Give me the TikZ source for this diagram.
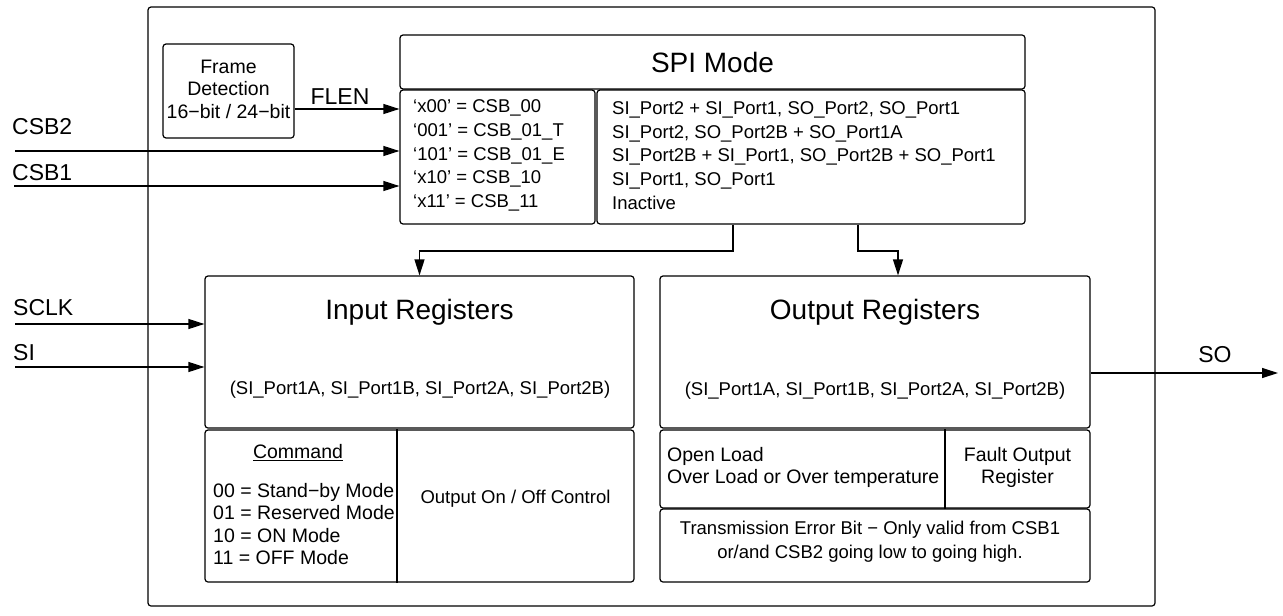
\documentclass[tikz,border=0pt]{standalone}
\usepackage{fontspec}
\setmainfont{Liberation Sans}
\usetikzlibrary{arrows.meta}
\begin{document}
\begin{tikzpicture}[x=1pt,y=-1pt,
  box/.style={draw, line width=1.2pt, rounded corners=3pt, inner sep=0pt},
  wire/.style={line width=1.2pt},
  arr/.style={line width=1.2pt, -{Triangle[length=16pt,width=10pt]}},
  txt/.style={font=\fontsize{18.5}{23.8}\selectfont, inner sep=0pt},
  mid/.style={font=\fontsize{19.5}{22.5}\selectfont, inner sep=0pt},
  sig/.style={font=\fontsize{23}{27}\selectfont, inner sep=0pt},
  big/.style={font=\fontsize{28}{33}\selectfont, inner sep=0pt}]
\useasboundingbox (0,0) rectangle (1283,616);

% boxes
\node[box, minimum width=1007, minimum height=599] (outer) at (651.5,306.5) {};
\node[box, minimum width=131, minimum height=94] (frame) at (228.5,91) {};
\node[box, minimum width=625, minimum height=54] (spih) at (712.5,62) {};
\node[box, minimum width=195, minimum height=134] (spil) at (497.5,157) {};
\node[box, minimum width=428, minimum height=134] (spir) at (811,157) {};
\node[box, minimum width=429, minimum height=152] (inreg) at (419.5,352) {};
\node[box, minimum width=429, minimum height=152] (cmd) at (419.5,506) {};
\node[box, minimum width=430, minimum height=152] (outreg) at (875,352) {};
\node[box, minimum width=430, minimum height=78] (fault) at (875,469) {};
\node[box, minimum width=430, minimum height=73] (trans) at (875,545.5) {};

% dividers
\coordinate (d1) at (397,0);
\coordinate (d2) at (945,0);
\draw[wire] (d1 |- cmd.north) -- (d1 |- cmd.south);
\draw[wire] (d2 |- fault.north) -- (d2 |- fault.south);

% texts
\node[mid, align=center] (frametxt) at (228.5,89) {Frame\\Detection\\16−bit / 24−bit};
\node[big] (spititle) at (712.5,62) {SPI Mode};
\node[txt, align=left, anchor=west] (spiltxt) at (413,155.5) {‘x00’ = CSB\_00\\‘001’ = CSB\_01\_T\\‘101’ = CSB\_01\_E\\‘x10’ = CSB\_10\\‘x11’ = CSB\_11};
\node[txt, align=left, anchor=west] (spirtxt) at (612,155.5) {SI\_Port2 + SI\_Port1, SO\_Port2, SO\_Port1\\SI\_Port2, SO\_Port2B + SO\_Port1A\\SI\_Port2B + SI\_Port1, SO\_Port2B + SO\_Port1\\SI\_Port1, SO\_Port1\\Inactive};
\node[big] (intitle) at (419.5,312) {Input Registers};
\node[txt] (insub) at (420,390) {(SI\_Port1A, SI\_Port1B, SI\_Port2A, SI\_Port2B)};
\node[big] (outtitle) at (875,312) {Output Registers};
\node[txt] (outsub) at (875,391) {(SI\_Port1A, SI\_Port1B, SI\_Port2A, SI\_Port2B)};
\node[mid] (cmdtitle) at (298,453) {\underline{Command}};
\node[mid, align=left, anchor=west] (cmdtxt) at (213,524) {00 = Stand−by Mode\\01 = Reserved Mode\\10 = ON Mode\\11 = OFF Mode};
\node[txt] (onoff) at (515.5,499) {Output On / Off Control};
\node[mid, align=left, anchor=west] (faulttxt) at (667,467.5) {Open Load\\Over Load or Over temperature};
\node[mid, align=center] (faultreg) at (1017.5,467.5) {Fault Output\\Register};
\node[txt, align=center] (transtxt) at (870,542) {Transmission Error Bit − Only valid from CSB1\\or/and CSB2 going low to going high.};

% signal labels
\node[sig] (flenlbl) at (340,97) {FLEN};
\node[sig, anchor=west] (csb2lbl) at (12,127) {CSB2};
\node[sig, anchor=west] (csb1lbl) at (12,173) {CSB1};
\node[sig, anchor=west] (sclklbl) at (13,308) {SCLK};
\node[sig, anchor=west] (silbl) at (13,353) {SI};
\node[sig] (solbl) at (1215,355) {SO};

% connectors
\coordinate (flenrow) at (0,109);
\draw[arr] (frame.east |- flenrow) -- (spil.west |- flenrow);
\coordinate (csb2s) at (15,151);
\draw[arr] (csb2s) -- (csb2s -| spil.west);
\coordinate (csb1s) at (14,186);
\draw[arr] (csb1s) -- (csb1s -| spil.west);
\coordinate (sclks) at (15,324);
\draw[arr] (sclks) -- (sclks -| inreg.west);
\coordinate (sis) at (15,367);
\draw[arr] (sis) -- (sis -| inreg.west);
\coordinate (soend) at (1278,373);
\draw[arr] (soend -| outreg.east) -- (soend);

\coordinate (k1) at (733,251);
\draw[arr] (k1 |- spir.south) -- (k1) -- (k1 -| inreg.north) -- (inreg.north);
\coordinate (k2) at (858,251);
\coordinate (t2) at (898,251);
\draw[arr] (k2 |- spir.south) -- (k2) -- (t2) -- (t2 |- outreg.north);
\end{tikzpicture}
\end{document}
